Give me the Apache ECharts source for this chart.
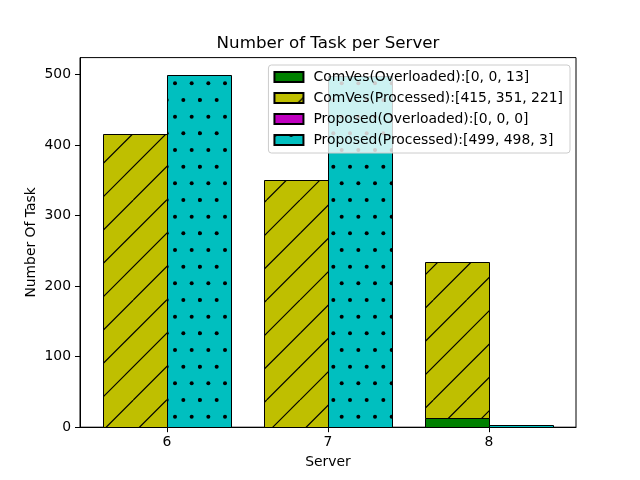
<!DOCTYPE html>
<html>
<head>
<meta charset="utf-8">
<script src="https://cdn.jsdelivr.net/npm/echarts@6/dist/echarts.min.js"></script>
<style>
  html, body { margin: 0; padding: 0; background: #fff; }
  #chart { width: 640px; height: 480px; }
</style>
</head>
<body>
<div id="chart"></div>
<script>
// data
const servers = [6, 7, 8]
const comvesOverloaded = [0, 0, 13]
const comvesProcessed = [415, 351, 221]
const proposedOverloaded = [0, 0, 0]
const proposedProcessed = [499, 498, 3]
const yTicks = [0, 100, 200, 300, 400, 500]

const FONT = 'DejaVu Sans'
const BAR_W = 0.4 // bar width in server units

// hatch '/' like matplotlib, tile 100px with 3 lines
function lineHatch(bg) {
  const c = document.createElement('canvas')
  c.width = 100
  c.height = 100
  const ctx = c.getContext('2d')
  ctx.fillStyle = bg
  ctx.fillRect(0, 0, 100, 100)
  ctx.strokeStyle = '#000'
  ctx.lineWidth = 1.2
  for (let k = -1; k <= 7; k++) {
    const s = k * 100 / 3
    ctx.beginPath()
    ctx.moveTo(s - 100, 100)
    ctx.lineTo(s, 0)
    ctx.stroke()
  }
  return { image: c, repeat: 'repeat' }
}

// hatch '.' dots, staggered rows
function dotHatch(bg) {
  const c = document.createElement('canvas')
  c.width = 100
  c.height = 100
  const ctx = c.getContext('2d')
  ctx.fillStyle = bg
  ctx.fillRect(0, 0, 100, 100)
  ctx.fillStyle = '#000'
  const step = 100 / 6
  for (let j = 0; j <= 6; j++) {
    for (let i = 0; i <= 6; i++) {
      const x = i * step + (j % 2 ? step / 2 : 0)
      const y = j * step
      ctx.beginPath()
      ctx.arc(x, y, 2, 0, Math.PI * 2)
      ctx.fill()
      if (x < 3) { ctx.beginPath(); ctx.arc(x + 100, y, 2, 0, Math.PI * 2); ctx.fill() }
    }
  }
  return { image: c, repeat: 'repeat' }
}

function label(name, arr) {
  return name + ':[' + arr.join(', ') + ']'
}

// one stacked segment per series, drawn from the axes via api.coord
function segment(name, offset, values, bases, fill) {
  return {
    name: name,
    type: 'custom',
    itemStyle: { color: fill, borderColor: '#000', borderWidth: 1 },
    encode: { x: 0, y: [1, 2] },
    data: servers.map((s, i) => [s + offset, bases[i], bases[i] + values[i]]),
    renderItem: function (params, api) {
      const x = api.value(0)
      const p0 = api.coord([x - BAR_W / 2, api.value(2)])
      const p1 = api.coord([x + BAR_W / 2, api.value(1)])
      const x0 = Math.round(p0[0]) + 0.5
      const x1 = Math.round(p1[0]) + 0.5
      const y0 = Math.round(p0[1]) + 0.5
      const y1 = Math.round(p1[1]) + 0.5
      return {
        type: 'rect',
        shape: { x: x0, y: y0, width: x1 - x0, height: y1 - y0 },
        style: { fill: fill, stroke: '#000', lineWidth: 1 }
      }
    }
  }
}

const zeros = servers.map(() => 0)
const series = [
  segment(label('ComVes(Overloaded)', comvesOverloaded), -BAR_W / 2, comvesOverloaded, zeros, '#008000'),
  segment(label('ComVes(Processed)', comvesProcessed), -BAR_W / 2, comvesProcessed, comvesOverloaded, lineHatch('#bfbf00')),
  segment(label('Proposed(Overloaded)', proposedOverloaded), BAR_W / 2, proposedOverloaded, zeros, '#bf00bf'),
  segment(label('Proposed(Processed)', proposedProcessed), BAR_W / 2, proposedProcessed, proposedOverloaded, dotHatch('#00bfbf'))
]

const tops = servers.map((s, i) => Math.max(comvesOverloaded[i] + comvesProcessed[i], proposedOverloaded[i] + proposedProcessed[i]))
const yMax = Math.max(...tops) * 1.05
const xLo = servers[0] - BAR_W
const xHi = servers[servers.length - 1] + BAR_W
const xPad = (xHi - xLo) * 0.05

const chart = echarts.init(document.getElementById('chart'), null, { renderer: 'canvas' })
chart.setOption({
  animation: false,
  backgroundColor: '#fff',
  textStyle: { fontFamily: FONT, color: '#000' },
  title: {
    text: 'Number of Task per Server',
    left: 328,
    textAlign: 'center',
    top: 35,
    padding: 0,
    textStyle: { fontFamily: FONT, fontSize: 16.7, fontWeight: 'normal', color: '#000' }
  },
  legend: {
    orient: 'vertical',
    right: 70,
    top: 65,
    padding: [5, 7, 6, 5],
    itemWidth: 29,
    itemHeight: 10,
    itemGap: 7,
    icon: 'rect',
    backgroundColor: 'rgba(255,255,255,0.8)',
    borderColor: '#cccccc',
    borderWidth: 1,
    borderRadius: 3,
    z: 10,
    textStyle: { fontFamily: FONT, fontSize: 13.9, color: '#000', lineHeight: 14, padding: [0, 0, 0, 5] }
  },
  grid: {
    left: 80, right: 64, top: 57.6, bottom: 52.8,
    show: true, borderColor: '#000', borderWidth: 1, backgroundColor: 'transparent'
  },
  xAxis: {
    type: 'value',
    min: xLo - xPad,
    max: xHi + xPad,
    name: 'Server',
    nameLocation: 'middle',
    nameGap: 28,
    nameMoveOverlap: false,
    nameTextStyle: { fontFamily: FONT, fontSize: 13.9, color: '#000' },
    axisLine: { show: true, lineStyle: { color: '#000', width: 1 } },
    axisTick: { show: true, length: 5, customValues: servers, lineStyle: { color: '#000' } },
    axisLabel: { customValues: servers, margin: 8, fontFamily: FONT, fontSize: 13.9, color: '#000' },
    splitLine: { show: false }
  },
  yAxis: {
    type: 'value',
    min: 0,
    max: yMax,
    name: 'Number Of Task',
    nameLocation: 'middle',
    nameGap: 42,
    nameMoveOverlap: false,
    nameTextStyle: { fontFamily: FONT, fontSize: 13.9, color: '#000' },
    axisLine: { show: true, lineStyle: { color: '#000', width: 1 } },
    axisTick: { show: true, length: 5, customValues: yTicks, lineStyle: { color: '#000' } },
    axisLabel: { customValues: yTicks, margin: 9, fontFamily: FONT, fontSize: 13.9, color: '#000' },
    splitLine: { show: false }
  },
  series: series
})
</script>
</body>
</html>
